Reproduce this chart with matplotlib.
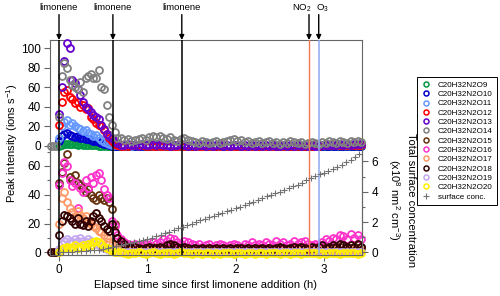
import numpy as np
import matplotlib
matplotlib.use('Agg')
import matplotlib.pyplot as plt
from matplotlib.lines import Line2D
from matplotlib.ticker import MultipleLocator

plt.rcParams['font.family'] = ['Liberation Sans', 'DejaVu Sans']
plt.rcParams['mathtext.default'] = 'regular'

nan = np.nan

# elapsed time (h): dense after the first additions, then the long tail
t = [-0.09, -0.06, -0.03, 0.00, 0.03, 0.06, 0.09, 0.12, 0.15, 0.18,
     0.21, 0.24, 0.27, 0.30, 0.33, 0.36, 0.39, 0.42, 0.45, 0.48,
     0.51, 0.54, 0.57, 0.60, 0.63, 0.66,
     0.70, 0.74, 0.78, 0.82, 0.86, 0.90, 0.94, 0.98, 1.02, 1.06,
     1.10, 1.14, 1.18, 1.22, 1.26, 1.30, 1.34, 1.38, 1.42, 1.46,
     1.50, 1.54, 1.58, 1.62, 1.66, 1.70, 1.74, 1.78, 1.82, 1.86,
     1.90, 1.94, 1.98, 2.02, 2.06, 2.10, 2.14, 2.18, 2.22, 2.26,
     2.30, 2.34, 2.38, 2.42, 2.46, 2.50, 2.54, 2.58, 2.62, 2.66,
     2.70, 2.74, 2.78, 2.82, 2.86, 2.90, 2.94, 2.98, 3.02, 3.06,
     3.10, 3.14, 3.18, 3.22, 3.26, 3.30, 3.34, 3.38, 3.42]

# upper panel (ions s-1)
o9 = [nan, nan, nan, 0.5, 1.5, 2.0, 2.5, 2.0, 2.2, 1.8, 1.5, 1.6, 1.2, 1.0, 1.1, 0.8, 0.8, 0.6, 0.5, 0.5,
      0.4, 0.3, 0.3, 0.2, 0.2, 0.1,
      0.1, 0.1, 0.0, 0.1, 0.1, 0.0, 0.1, 0.1, 0.1, 0.0,
      0.1, 0.0, 0.1, 0.1, 0.0, 0.1, 0.0, 0.1, 0.1, 0.0,
      0.1, 0.0, 0.1, 0.0, 0.1, 0.1, 0.0, 0.1, 0.0, 0.1,
      0.1, 0.0, 0.1, 0.1, 0.0, 0.1, 0.0, 0.1, 0.1, 0.0,
      0.1, 0.0, 0.1, 0.0, 0.1, 0.1, 0.0, 0.1, 0.0, 0.1,
      0.1, 0.0, 0.1, 0.1, 0.0, 0.1, 0.0, 0.1, 0.1, 0.0,
      0.1, 0.0, 0.1, 0.1, 0.0, 0.1, 0.0, 0.1, 0.1]
o10 = [nan, nan, nan, 5, 10, 12, 13, 11, 10, 9, 10, 8, 8, 7, 7, 6, 5, 5, 4, 3,
       2, 2, 1, 0.5, 0.3, 0.2,
       0.2, 0.2, 0.1, 0.2, 0.3, 0.2, 0.2, 0.1, 0.2, 0.2,
       0.1, 0.2, 0.2, 0.1, 0.2, 0.1, 0.2, 0.2, 0.1, 0.2,
       0.2, 0.1, 0.2, 0.1, 0.2, 0.2, 0.1, 0.2, 0.2, 0.3,
       0.2, 0.3, 0.2, 0.3, 0.2, 0.2, 0.1, 0.2, 0.2, 0.1,
       0.2, 0.1, 0.2, 0.2, 0.1, 0.2, 0.2, 0.1, 0.2, 0.2,
       0.2, 0.1, 0.2, 0.2, 0.3, 0.2, 0.2, 0.3, 0.2, 0.2,
       0.3, 0.2, 0.3, 0.2, 0.3, 0.2, 0.3, 0.3, 0.2]
o11 = [nan, nan, nan, 8, 20, 25, 27, 22, 24, 20, 18, 17, 15, 16, 13, 12, 10, 11, 8, 6,
       4, 3, 2, 1, 0.8, 0.6,
       0.6, 0.5, 0.7, 0.5, 0.8, 1.0, 0.9, 0.7, 0.6, 0.5,
       0.6, 0.5, 0.4, 0.5, 0.6, 0.4, 0.5, 0.5, 0.4, 0.5,
       0.6, 0.5, 0.4, 0.5, 0.6, 0.5, 0.5, 0.6, 0.5, 0.7,
       0.5, 0.4, 0.5, 0.6, 0.5, 0.4, 0.5, 0.4, 0.5, 0.6,
       0.5, 0.4, 0.5, 0.5, 0.6, 0.5, 0.4, 0.5, 0.6, 0.5,
       0.6, 0.5, 0.6, 0.7, 0.6, 0.5, 0.6, 0.7, 0.8, 0.7,
       0.8, 0.7, 0.8, 0.9, 0.8, 0.7, 0.8, 0.9, 0.8]
o12 = [nan, nan, nan, 22, 45, 55, 57, 50, 48, 44, 45, 40, 42, 38, 39, 30, 28, 24, 22, 20,
       16, 12, 8, 5, 2, 1,
       0.5, 0.4, 0.5, 0.6, 0.7, 0.8, 0.6, 0.5, 0.5, 0.4,
       0.4, 0.5, 0.4, 0.3, 0.4, 0.4, 0.3, 0.4, 0.4, 0.3,
       0.4, 0.4, 0.3, 0.4, 0.4, 0.5, 0.4, 0.5, 0.5, 0.6,
       0.4, 0.3, 0.4, 0.4, 0.3, 0.4, 0.4, 0.3, 0.4, 0.4,
       0.3, 0.4, 0.4, 0.5, 0.4, 0.3, 0.4, 0.5, 0.4, 0.5,
       0.5, 0.4, 0.5, 0.6, 0.5, 0.6, 0.5, 0.6, 0.6, 0.7,
       0.6, 0.7, 0.6, 0.7, 0.8, 0.7, 0.8, 0.7, 0.8]
o13 = [nan, nan, nan, 33, 60, 87, 105, 100, 68, 64, 58, 52, 45, 40, 38, 35, 32, 30, 28, 21,
       17, 12, 10, 8, 5, 3,
       1.5, 1.0, 2.0, 1.0, 1.5, 0.5, 2.0, 1.0, 1.5, 2.0,
       1.0, 2.0, 1.5, 1.0, 0.5, 1.5, 1.0, 2.0, 1.0, 0.5,
       1.0, 0.5, 1.5, 1.0, 0.5, 1.0, 0.5, 1.5, 1.0, 0.5,
       1.0, 0.5, 1.0, 1.5, 0.5, 1.0, 0.5, 1.0, 0.5, 1.0,
       0.5, 1.0, 0.5, 1.0, 0.5, 0.5, 1.0, 0.5, 1.0, 0.5,
       1.0, 0.5, 1.0, 0.5, 1.0, 0.5, 1.0, 1.5, 1.0, 1.5,
       1.0, 1.5, 2.0, 1.5, 2.0, 1.5, 2.0, 2.5, 2.0]
o14 = [0, 0, 0, 30, 72, 85, 80, 68, 62, 60, 58, 65, 55, 70, 72, 74, 70, 70, 78, 60,
       58, 42, 30, 21, 14, 8,
       8, 6, 7, 5, 6, 7, 8, 6, 9, 10,
       9, 10, 8, 7, 9, 6, 5, 7, 8, 6,
       5, 4, 3, 5, 4, 3, 4, 5, 3, 4,
       5, 6, 7, 5, 6, 4, 5, 3, 4, 5,
       3, 4, 5, 3, 4, 2, 4, 3, 5, 4,
       3, 4, 2, 3, 4, 3, 2, 4, 3, 5,
       4, 3, 5, 4, 3, 5, 4, 5, 4]

# lower panel (ions s-1)
o15 = [nan, nan, nan, 48, 56, 62, 68, 52, 50, 54, 48, 47, 45, 42, 44, 40, 38, 36, 40, 38,
       36, 38, 35, 30, 20, 10,
       5, 4, 3, 3, 2, 3, 4, 3, 3, 4,
       3, 2, 3, 3, 4, 3, 2, 3, 3, 2,
       3, 3, 2, 3, 3, 2, 3, 3, 2, 3,
       3, 2, 3, 3, 2, 3, 3, 2, 3, 3,
       2, 3, 3, 2, 3, 3, 3, 2, 3, 3,
       4, 3, 4, 3, 3, 4, 3, 4, 4, 3,
       4, 3, 4, 5, 4, 3, 4, 5, 4]
o16 = [nan, nan, nan, 47, 55, 63, 60, 50, 46, 48, 31, 45, 42, 50, 45, 52, 48, 54, 55, 50,
       44, 40, 38, 22, 18, 12,
       9, 7, 6, 5, 6, 4, 5, 6, 5, 7,
       6, 7, 9, 8, 10, 9, 7, 6, 8, 7,
       6, 5, 6, 4, 5, 6, 4, 5, 6, 5,
       4, 5, 6, 5, 4, 6, 5, 7, 5, 6,
       5, 7, 6, 5, 8, 6, 7, 5, 6, 8,
       6, 7, 8, 6, 5, 6, 5, 7, 9, 8,
       10, 9, 12, 11, 9, 13, 10, 12, 9]
o17 = [nan, nan, nan, 20, 38, 42, 35, 31, 28, 25, 29, 26, 24, 25, 22, 20, 18, 17, 15, 14,
       12, 10, 7, 5, 3, 2,
       1.5, 1.2, 1.5, 1.0, 1.3, 1.5, 1.2, 1.0, 1.4, 1.2,
       1.0, 1.2, 1.0, 1.3, 1.1, 1.0, 1.2, 1.0, 1.1, 1.3,
       1.0, 1.2, 1.1, 1.0, 1.2, 1.3, 1.0, 1.2, 1.1, 1.0,
       1.2, 1.0, 1.1, 1.3, 1.0, 1.2, 1.1, 1.0, 1.2, 1.1,
       1.0, 1.2, 1.1, 1.3, 1.0, 1.2, 1.1, 1.3, 1.2, 1.1,
       1.3, 1.2, 1.4, 1.2, 1.3, 1.1, 1.4, 1.3, 1.5, 1.4,
       1.6, 1.5, 1.7, 1.5, 1.6, 1.8, 1.5, 1.7, 1.6]
o18 = [0, 0, 0, 12, 22, 26, 25, 24, 22, 20, 24, 20, 19, 22, 18, 22, 25, 27, 24, 22,
       18, 16, 15, 20, 14, 10,
       8, 6, 4, 3, 4, 3, 2, 3, 4, 3,
       3, 4, 3, 5, 6, 5, 4, 3, 4, 3,
       2, 3, 2, 3, 2, 3, 2, 3, 2, 3,
       2, 3, 2, 3, 3, 2, 3, 2, 3, 2,
       3, 2, 3, 2, 3, 4, 3, 2, 3, 4,
       3, 4, 3, 2, 4, 3, 4, 5, 3, 4,
       5, 4, 6, 5, 4, 5, 4, 6, 4]
o19 = [nan, nan, nan, 2, 6, 8, 9, 8, 7, 9, 8, 10, 8, 7, 9, 8, 7, 6, 5, 4,
       3, 2, 1.5, 1, 0.5, 0.5,
       0.4, 0.3, 0.3, 0.2, 0.3, 0.4, 0.3, 0.3, 0.2, 0.3,
       0.3, 0.2, 0.3, 0.3, 0.2, 0.3, 0.2, 0.3, 0.3, 0.2,
       0.3, 0.3, 0.2, 0.3, 0.3, 0.2, 0.3, 0.3, 0.2, 0.4,
       0.3, 0.2, 0.3, 0.3, 0.2, 0.3, 0.3, 0.2, 0.3, 0.3,
       0.2, 0.3, 0.3, 0.2, 0.3, 0.3, 0.2, 0.3, 0.3, 0.2,
       0.3, 0.3, 0.4, 0.3, 0.3, 0.4, 0.3, 0.4, 0.4, 0.3,
       0.4, 0.3, 0.4, 0.4, 0.3, 0.4, 0.3, 0.4, 0.4]
o20 = [nan, nan, nan, 0.5, 2, 3, 4, 3, 4, 5, 3, 4, 5, 4, 6, 5, 7, 8, 7, 6,
       4, 3, 2, 1, 0.5, 0.3,
       0.0, -0.5, -1.0, -0.3, -0.8, 0.0, -0.6, -1.0, -0.4, 0.2,
       -0.7, -1.0, -0.2, -0.8, -0.5, -1.0, -0.3, 0.0, -0.8, -0.6,
       -1.0, -0.4, -0.7, -1.0, -0.2, -0.6, -0.9, -0.3, -1.0, -0.5,
       -0.8, -0.2, -1.0, -0.6, -0.4, -0.9, -0.2, -0.7, -1.0, -0.4,
       -0.6, -1.0, -0.3, -0.8, -0.5, -1.0, -0.2, -0.7, -0.9, -0.4,
       -0.6, -1.0, -0.3, -0.8, -0.5, -0.2, -0.9, -0.6, -1.0, -0.3,
       -0.7, -0.4, -1.0, -0.5, -0.8, -0.2, -0.6, -1.0, -0.4]

# total surface concentration (x10^8 nm2 cm-3)
t_surf = [0.00, 0.05, 0.10, 0.15, 0.20, 0.25, 0.30, 0.35, 0.40, 0.45,
          0.50, 0.55, 0.60, 0.65, 0.70, 0.75, 0.80, 0.85, 0.90, 0.95,
          1.00, 1.05, 1.10, 1.15, 1.20, 1.25, 1.30, 1.35, 1.40, 1.45,
          1.50, 1.55, 1.60, 1.65, 1.70, 1.75, 1.80, 1.85, 1.90, 1.95,
          2.00, 2.05, 2.10, 2.15, 2.20, 2.25, 2.30, 2.35, 2.40, 2.45,
          2.50, 2.55, 2.60, 2.65, 2.70, 2.75, 2.80, 2.85, 2.90, 2.95,
          3.00, 3.05, 3.10, 3.15, 3.20, 3.25, 3.30, 3.35, 3.40]
surf = [0.00, 0.02, 0.03, 0.05, 0.06, 0.08, 0.10, 0.12, 0.15, 0.18,
        0.22, 0.28, 0.35, 0.42, 0.50, 0.55, 0.60, 0.65, 0.72, 0.78,
        0.85, 0.95, 1.05, 1.15, 1.25, 1.35, 1.48, 1.60, 1.70, 1.80,
        1.90, 2.00, 2.10, 2.20, 2.30, 2.40, 2.50, 2.60, 2.70, 2.80,
        2.92, 3.02, 3.12, 3.25, 3.35, 3.45, 3.58, 3.70, 3.80, 3.90,
        4.00, 4.10, 4.22, 4.35, 4.45, 4.58, 4.75, 4.90, 5.02, 5.15,
        5.25, 5.38, 5.48, 5.62, 5.78, 5.95, 6.12, 6.30, 6.50]

limonene_times = [0.0, 0.61, 1.39]
no2_time = 2.83
o3_time = 2.94

top_series = [('C20H32N2O9', o9, '#009944'), ('C20H32N2O10', o10, '#0000cc'),
              ('C20H32N2O11', o11, '#6699ff'), ('C20H32N2O12', o12, '#ff0000'),
              ('C20H32N2O13', o13, '#6600cc'), ('C20H32N2O14', o14, '#808080')]
bot_series = [('C20H32N2O15', o15, '#663311'), ('C20H32N2O16', o16, '#ff33cc'),
              ('C20H32N2O17', o17, '#ff9966'), ('C20H32N2O18', o18, '#330000'),
              ('C20H32N2O19', o19, '#c4a8f0'), ('C20H32N2O20', o20, '#ffee00')]

W, H = 500, 296
fig = plt.figure(figsize=(W / 100, H / 100), dpi=100)
ax_top = fig.add_axes([50 / W, 1 - 148 / H, 312 / W, 108 / H])
ax_bot = fig.add_axes([50 / W, 1 - 255 / H, 312 / W, 107 / H])
ax_r = ax_bot.twinx()

spine_col = '#666666'
handles = []
for ax, series in ((ax_top, top_series), (ax_bot, bot_series)):
    for name, vals, col in series:
        ax.plot(t, vals, ls='none', marker='o', mfc='none', mec=col, ms=5.0, mew=1.3,
                clip_on=False, zorder=3)
        handles.append(Line2D([], [], ls='none', marker='o', mfc='none', mec=col,
                              ms=3.6, mew=1.1, label=name))
    for x in limonene_times:
        ax.axvline(x, color='black', lw=1.1, zorder=3.5)
    ax.axvline(no2_time, color='#f07850', lw=1.0, zorder=3.5)
    ax.axvline(o3_time, color='#8fa8f0', lw=1.1, zorder=3.5)
    ax.set_xlim(-0.102, 3.43)
    ax.patch.set_alpha(0)
    for s in ax.spines.values():
        s.set_color(spine_col)
        s.set_linewidth(0.8)
    ax.tick_params(direction='out', colors=spine_col, labelcolor='black', labelsize=8.5,
                   length=4.5, width=0.8, pad=2)
    ax.tick_params(which='minor', direction='out', colors=spine_col, length=2.5, width=0.8)

ax_r.plot(t_surf, surf, ls='none', marker='+', color='#707070', ms=4, mew=0.8, clip_on=False)
handles.append(Line2D([], [], ls='none', marker='+', color='#707070', ms=4, mew=0.8,
                      label='surface conc.'))

ax_top.set_ylim(-2.05, 108.5)
ax_top.set_yticks([0, 20, 40, 60, 80, 100])
ax_top.set_xticks([])
ax_top.spines['bottom'].set_visible(False)

ax_bot.set_ylim(-1.9, 72.5)
ax_bot.set_yticks([0, 20, 40, 60])
ax_bot.yaxis.set_minor_locator(MultipleLocator(10))
ax_bot.set_xticks([0, 1, 2, 3])
ax_bot.spines['top'].set_visible(False)

ax_r.set_ylim(-0.18, 6.89)
ax_r.set_yticks([0, 2, 4, 6])
ax_r.yaxis.set_minor_locator(MultipleLocator(1))
ax_r.spines['top'].set_visible(False)
for s in ax_r.spines.values():
    s.set_color(spine_col)
    s.set_linewidth(0.8)
ax_r.tick_params(direction='out', colors=spine_col, labelcolor='black', labelsize=8.5,
                 length=4.5, width=0.8, pad=2.5)
ax_r.tick_params(which='minor', direction='out', colors=spine_col, length=2.5, width=0.8)

# event arrows and labels above the plot
tr = ax_top.get_xaxis_transform()
arrow_style = dict(arrowstyle='-|>', color='black', lw=1.0, mutation_scale=7, shrinkA=0, shrinkB=0)
for x in limonene_times:
    ax_top.annotate('', xy=(x, 1.0), xycoords=tr, xytext=(x, 1.235), textcoords=tr,
                    arrowprops=arrow_style, annotation_clip=False)
    ax_top.text(x, 1.305, 'limonene', transform=tr, ha='center', va='center', fontsize=6.8)
for x in (no2_time, o3_time):
    ax_top.annotate('', xy=(x, 1.0), xycoords=tr, xytext=(x, 1.235), textcoords=tr,
                    arrowprops=arrow_style, annotation_clip=False)
ax_top.text(2.75, 1.29, 'NO$_2$', transform=tr, ha='center', va='center', fontsize=6.8)
ax_top.text(2.98, 1.29, 'O$_3$', transform=tr, ha='center', va='center', fontsize=6.8)

fig.text(12 / W, 1 - 143 / H, 'Peak intensity (ions s$^{-1}$)', rotation=90,
         ha='center', va='center', fontsize=8)
fig.text(206 / W, 1 - 285 / H, 'Elapsed time since first limonene addition (h)',
         ha='center', va='center', fontsize=8)
fig.text(401 / W, 1 - 200 / H,
         'Total surface concentration\n(x10$^{8}$ nm$^{2}$ cm$^{-3}$)',
         rotation=270, ha='center', va='center', fontsize=8, linespacing=1.3)

leg = fig.legend(handles=handles, loc='upper left', bbox_to_anchor=(417 / W, 1 - 77 / H),
                 fontsize=5.8, frameon=True, fancybox=False, edgecolor='black',
                 framealpha=1, borderpad=0.5, labelspacing=0.21, handlelength=1.2,
                 handletextpad=0.9, borderaxespad=0)
leg.get_frame().set_linewidth(0.7)

fig.savefig('out.png', dpi=100)
